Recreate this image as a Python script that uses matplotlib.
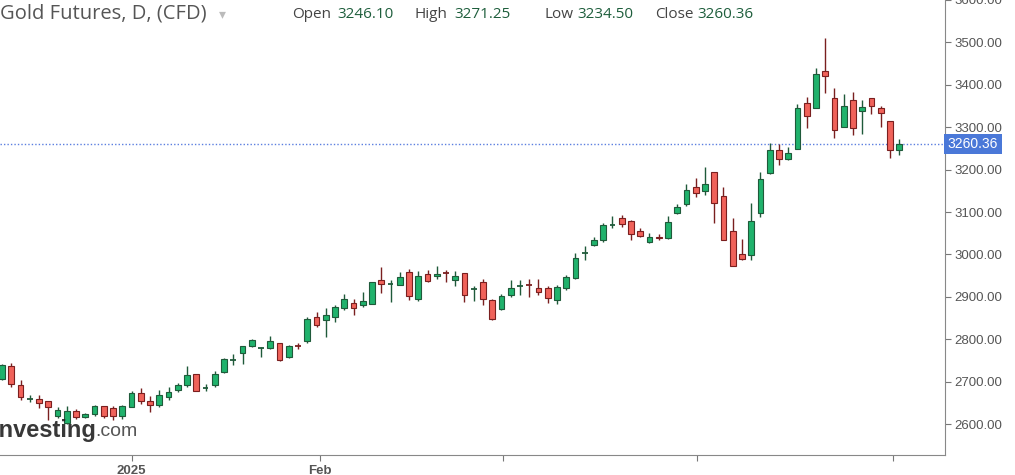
import matplotlib
matplotlib.use("Agg")
import matplotlib.pyplot as plt
from matplotlib.patches import Rectangle

opens = [2707,2738,2692,2658,2659,2654,2620,2603,2631,2617,2623,2642,2639,2620,2641,2674,2654,2646,2663,2680,2691,2717,2685,2693,2723,2750,2767,2784,2779,2779,2791,2758,2784,
         2795,2853,2845,2852,2873,2885,2880,2884,2939,2929,2928,2959,2895,2955,2948,2957,2939,2956,2918,2934,2892,2871,2904,2926,2928,2920,2920,2892,2922,2944,3004,3022,
         3035,3070,3086,3080,3055,3030,3041,3039,3098,3119,3159,3149,3195,3138,3055,3000,2998,3098,3191,3246,3225,3248,3358,3345,3433,3369,3300,3363,3338,3369,3345,3314,3246.10]
closes = [2740,2695,2664,2658,2649,2641,2632,2631,2617,2623,2642,2620,2620,2642,2674,2654,2646,2668,2676,2693,2715,2678,2686,2717,2754,2751,2785,2799,2780,2795,2752,2783,2783,
          2848,2834,2858,2877,2895,2874,2889,2936,2931,2930,2947,2901,2949,2938,2955,2956,2949,2904,2919,2896,2848,2902,2920,2927,2927,2912,2898,2923,2947,2991,3004,3035,
          3070,3070,3072,3049,3043,3041,3038,3076,3113,3151,3146,3166,3121,3034,2973,2990,3078,3178,3246,3225,3240,3345,3327,3426,3420,3293,3349,3298,3348,3349,3334,3246,3260.36]
highs = [2742,2745,2703,2668,2668,2655,2640,2642,2635,2625,2645,2642,2642,2645,2677,2684,2665,2680,2688,2697,2736,2717,2695,2725,2755,2765,2785,2800,2782,2808,2791,2786,2790,
         2852,2865,2874,2880,2907,2895,2912,2936,2970,2940,2958,2965,2960,2963,2972,2964,2960,2956,2925,2941,2895,2906,2940,2940,2941,2941,2925,2927,2951,3003,3021,3041,
         3075,3090,3093,3082,3062,3050,3048,3090,3120,3165,3180,3205,3195,3160,3085,3037,3122,3195,3262,3260,3253,3355,3372,3440,3510,3393,3378,3383,3363,3369,3350,3314,3271.25]
lows = [2705,2688,2657,2652,2637,2610,2615,2600,2613,2615,2620,2615,2610,2613,2640,2648,2628,2640,2657,2675,2688,2678,2678,2688,2721,2740,2742,2782,2757,2777,2748,2755,2778,
        2790,2828,2805,2840,2870,2857,2877,2884,2908,2887,2928,2893,2890,2936,2942,2934,2925,2887,2890,2880,2845,2868,2900,2905,2900,2905,2885,2883,2915,2942,2988,3020,
        3030,3063,3065,3034,3040,3027,3035,3037,3095,3115,3135,3140,3075,3034,2972,2988,2988,3088,3190,3212,3222,3248,3298,3345,3380,3275,3300,3282,3283,3330,3300,3228,3234.50]

yticks = [2600, 2700, 2800, 2900, 3000, 3100, 3200, 3300, 3400, 3500, 3600]
xtick_pos = [14, 34.4, 54.2, 75.1, 96.3]
xtick_labels = ["2025", "Feb", "", "", ""]
last_price = 3260.36
header_labels = ["Open", "High", "Low", "Close"]
header_values = ["3246.10", "3271.25", "3234.50", "3260.36"]

UP, UPE = "#20b26c", "#1f5a3a"
DN, DNE = "#f0625a", "#7a1f1f"

fig = plt.figure(figsize=(10.15, 4.75), dpi=100)
ax = fig.add_axes([0, 20/475, 945/1015, 455/475])
w = 0.62
for i, (o, h, l, c) in enumerate(zip(opens, highs, lows, closes)):
    up = c >= o
    fc, ec = (UP, UPE) if up else (DN, DNE)
    ax.vlines(i, l, h, color=ec, lw=1.0, zorder=2)
    lo, hi = min(o, c), max(o, c)
    if hi - lo < 1.2:
        ax.hlines((o + c) / 2, i - w/2, i + w/2, color=ec, lw=1.3, zorder=3)
    else:
        ax.add_patch(Rectangle((i - w/2, lo), w, hi - lo, facecolor=fc, edgecolor=ec, lw=0.8, zorder=3))

ax.axhline(last_price, color="#5b7fe0", lw=1, ls=(0, (1, 1.5)), zorder=1)
ax.set_xlim(-0.22, 101.95)
ax.set_ylim(2527, 3594)
ax.yaxis.tick_right()
ax.set_yticks(yticks)
ax.set_yticklabels([f"{v:.2f}" for v in yticks], fontsize=9.5, color="#555555", family="Liberation Sans")
ax.set_xticks(xtick_pos)
ax.set_xticklabels(xtick_labels, fontsize=9.5, color="#555555", family="Liberation Sans", fontweight="bold")
ax.tick_params(axis="both", length=4, color="#777777", pad=3)
for s in ["top", "left"]:
    ax.spines[s].set_visible(False)
for s in ["right", "bottom"]:
    ax.spines[s].set_color("#888888")

ax.text(1.003, last_price, f"{last_price:.2f}", transform=ax.get_yaxis_transform(), va="center", ha="left",
        fontsize=10, color="white", family="Liberation Sans", clip_on=False,
        bbox=dict(boxstyle="square,pad=0.25", fc="#4a78d8", ec="none"))

yh = 1 - 14/475
fig.text(0.0, yh, "Gold Futures, D, (CFD)", va="center", ha="left", fontsize=14.5, color="#555555", family="Open Sans")
fig.text(219/1015, yh, "\u25be", va="center", ha="left", fontsize=10, color="#bbbbbb")
lab_x = [292, 415, 545, 655]
val_x = [337, 454, 577, 697]
for lab, val, lx, vx in zip(header_labels, header_values, lab_x, val_x):
    fig.text(lx/1015, yh, lab, va="center", ha="left", fontsize=11, color="#444444", family="Open Sans")
    fig.text(vx/1015, yh, val, va="center", ha="left", fontsize=11, color="#1e5e3c", family="Open Sans")
fig.text(-0.008, 45/475, "Investing", fontsize=17, fontweight="bold", color="#222222", family="Liberation Sans", va="center", alpha=0.9)
fig.text(95/1015, 43/475, ".com", fontsize=14, color="#444444", family="Liberation Sans", va="center", alpha=0.9)
fig.savefig("out.png", dpi=100)
